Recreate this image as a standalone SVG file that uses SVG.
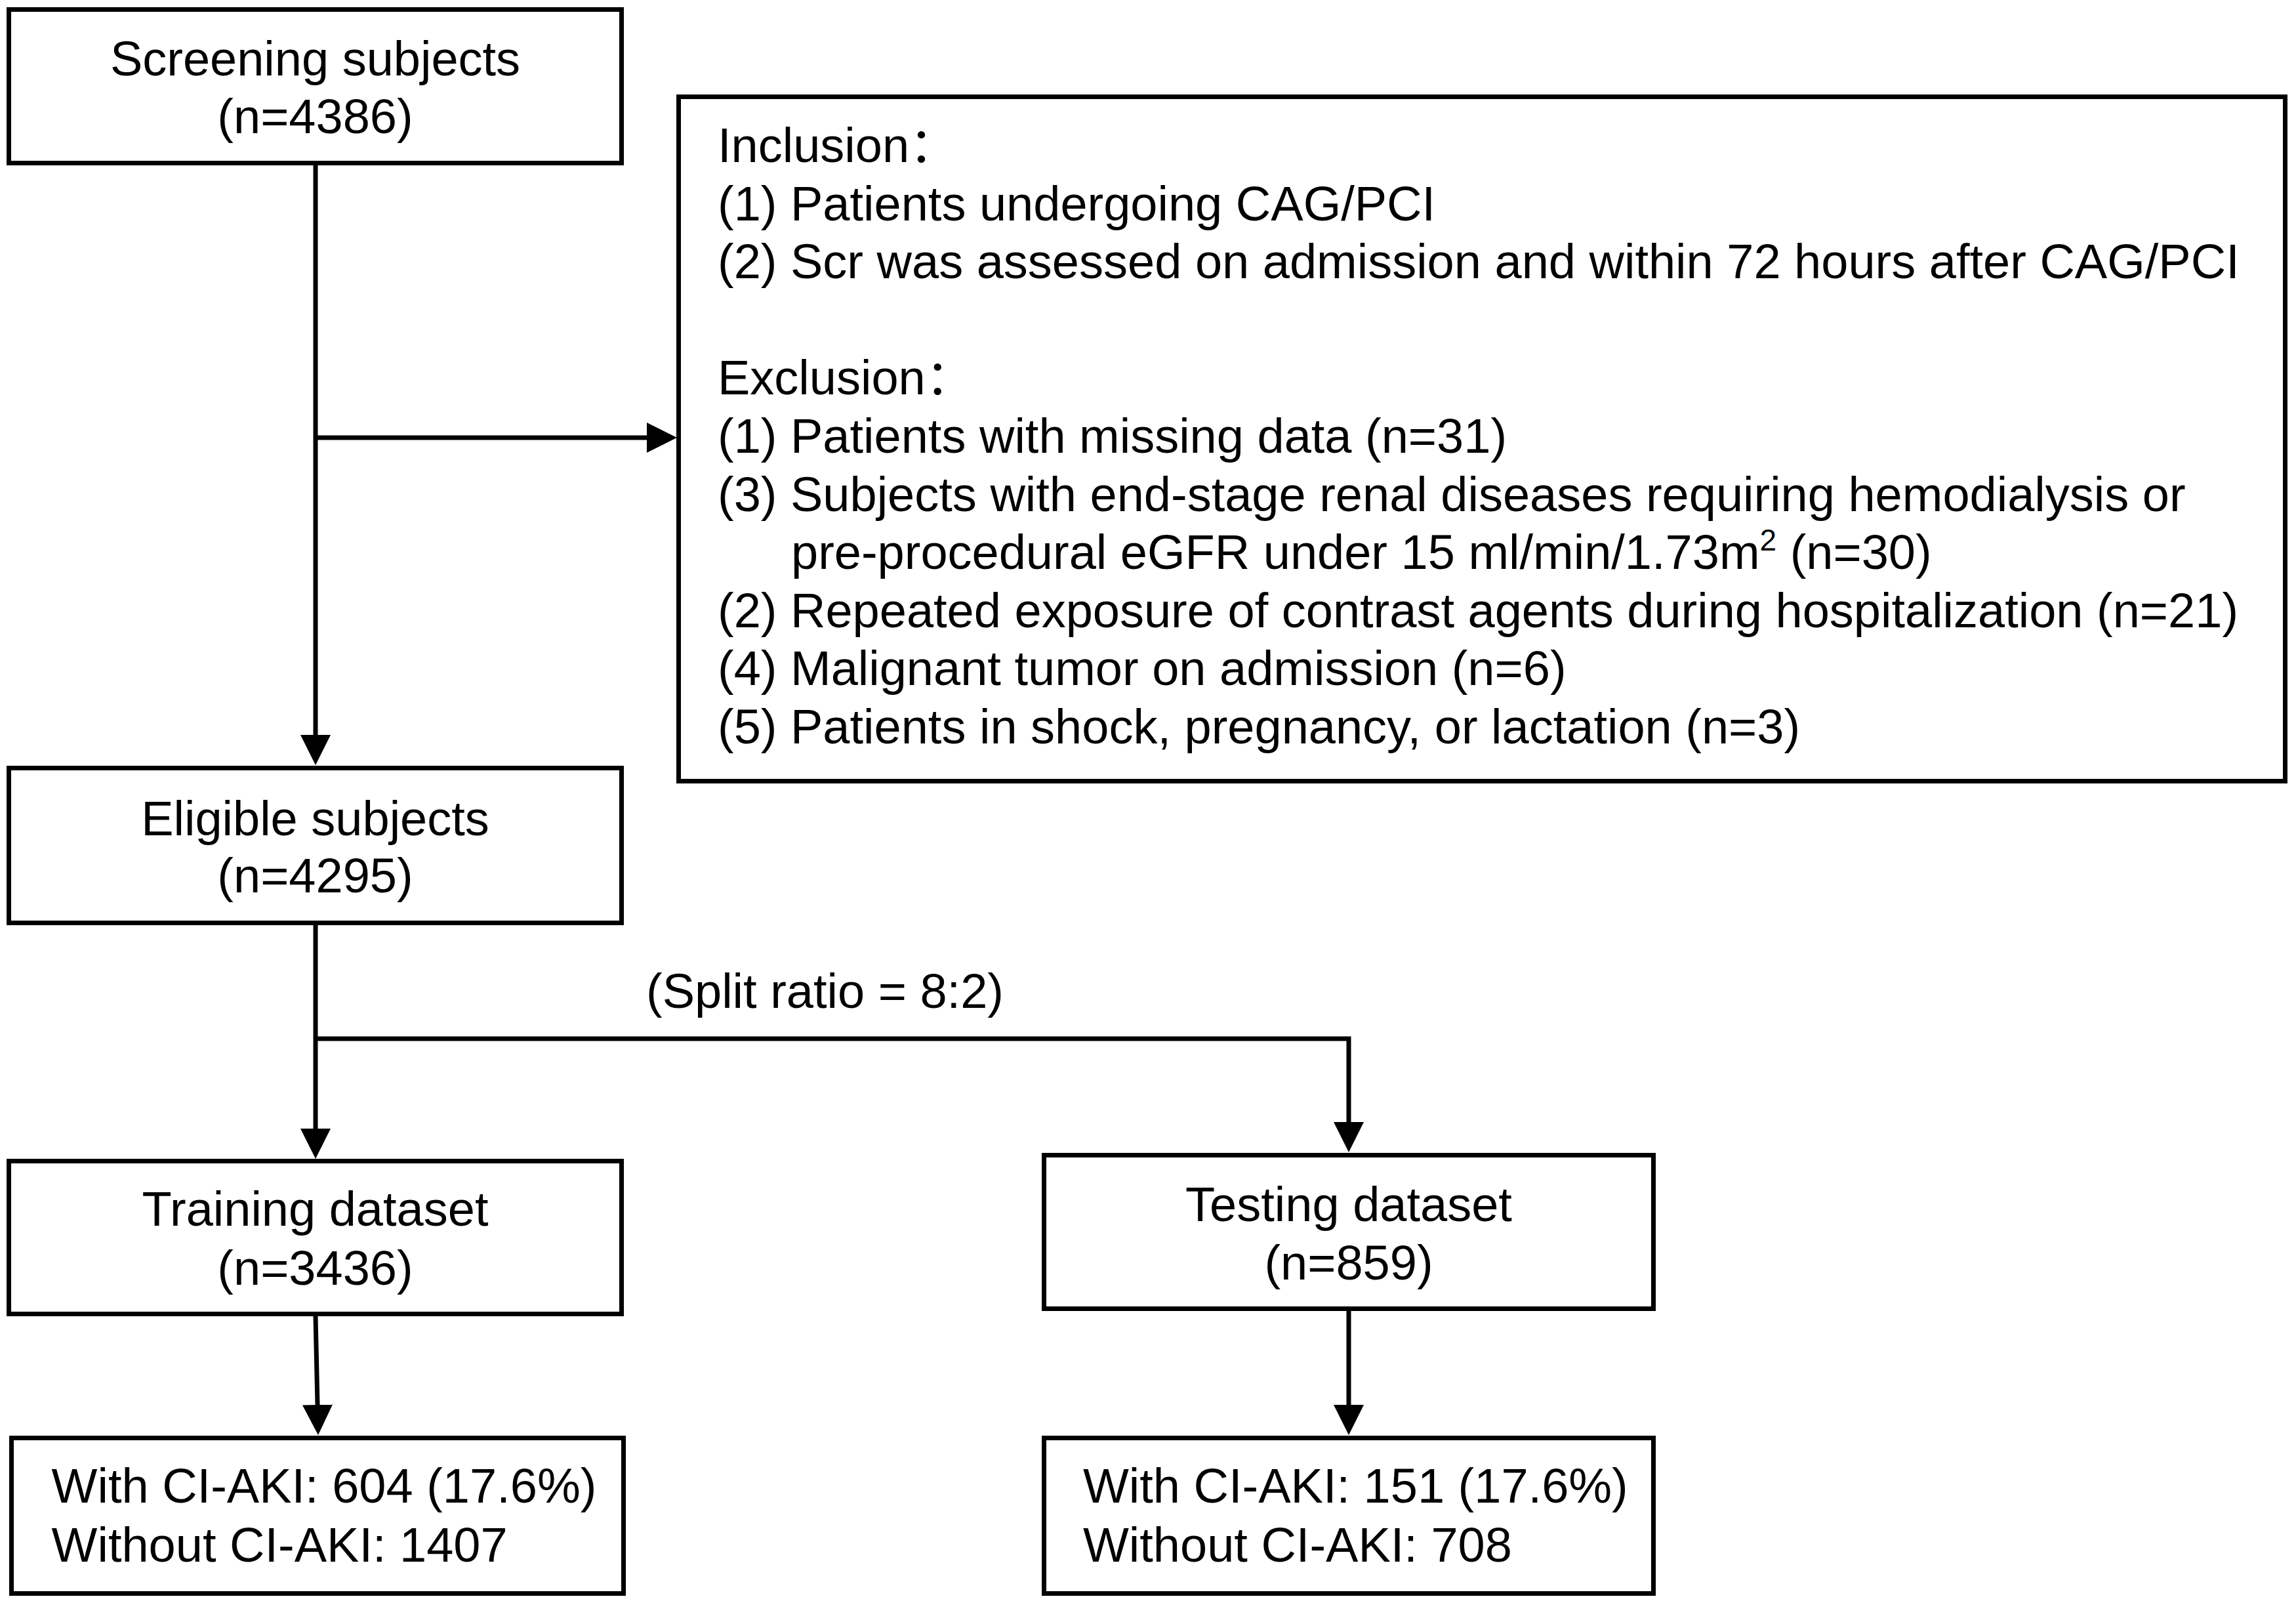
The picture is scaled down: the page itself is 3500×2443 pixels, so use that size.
<svg xmlns="http://www.w3.org/2000/svg" width="3500" height="2443" viewBox="0 0 3500 2443">
<style>
.box{fill:#fff;stroke:#000;stroke-width:7}
.ln{fill:none;stroke:#000;stroke-width:7}
.t{font-family:"Liberation Sans",Arial,"Noto Sans CJK SC",sans-serif;font-size:74px;fill:#000}
.c{text-anchor:middle}
</style>
<defs>
<marker id="ah" markerUnits="userSpaceOnUse" viewBox="0 0 46 46" markerWidth="46" markerHeight="46" refX="0" refY="23" orient="auto">
<path d="M0,0 L46,23 L0,46 Z" fill="#000"/>
</marker>
</defs>
<rect width="3500" height="2443" fill="#fff"/>
<g id="connectors">
<path class="ln" d="M481,252 V1120" marker-end="url(#ah)"/>
<path class="ln" d="M481,667 H986" marker-end="url(#ah)"/>
<path class="ln" d="M481,1410 V1720" marker-end="url(#ah)"/>
<path class="ln" d="M481,1583 H2056 V1710" marker-end="url(#ah)"/>
<path class="ln" d="M481,2006 L484,2141" marker-end="url(#ah)"/>
<path class="ln" d="M2056,1998 V2141" marker-end="url(#ah)"/>
</g>
<g id="screening">
<rect class="box" x="13.5" y="14.5" width="934" height="234"/>
<text class="t c" x="480.5" y="115">Screening subjects</text>
<text class="t c" x="480.5" y="203">(n=4386)</text>
</g>
<g id="criteria">
<rect class="box" x="1034.5" y="147.5" width="2449" height="1043"/>
<text class="t" x="1094" y="247">Inclusion：</text>
<text class="t" x="1094" y="335.6">(1) Patients undergoing CAG/PCI</text>
<text class="t" x="1094" y="424.2">(2) Scr was assessed on admission and within 72 hours after CAG/PCI</text>
<text class="t" x="1094" y="601.4">Exclusion：</text>
<text class="t" x="1094" y="690">(1) Patients with missing data (n=31)</text>
<text class="t" x="1094" y="778.6">(3) Subjects with end-stage renal diseases requiring hemodialysis or</text>
<text class="t" x="1206" y="867.2">pre-procedural eGFR under 15 ml/min/1.73m<tspan font-size="46" dy="-28">2</tspan><tspan dy="28"> (n=30)</tspan></text>
<text class="t" x="1094" y="955.8">(2) Repeated exposure of contrast agents during hospitalization (n=21)</text>
<text class="t" x="1094" y="1044.4">(4) Malignant tumor on admission (n=6)</text>
<text class="t" x="1094" y="1133">(5) Patients in shock, pregnancy, or lactation (n=3)</text>
</g>
<g id="eligible">
<rect class="box" x="13.5" y="1170.5" width="934" height="236"/>
<text class="t c" x="480.5" y="1273">Eligible subjects</text>
<text class="t c" x="480.5" y="1360">(n=4295)</text>
</g>
<g id="split-label">
<text class="t" x="985" y="1536">(Split ratio = 8:2)</text>
</g>
<g id="training">
<rect class="box" x="13.5" y="1769.5" width="934" height="233"/>
<text class="t c" x="480.5" y="1868">Training dataset</text>
<text class="t c" x="480.5" y="1958">(n=3436)</text>
</g>
<g id="testing">
<rect class="box" x="1591.5" y="1760.5" width="929" height="234"/>
<text class="t c" x="2056" y="1861">Testing dataset</text>
<text class="t c" x="2056" y="1950">(n=859)</text>
</g>
<g id="training-outcome">
<rect class="box" x="17.5" y="2191.5" width="933" height="237"/>
<text class="t" x="78.6" y="2290">With CI-AKI: 604 (17.6%)</text>
<text class="t" x="78.6" y="2380">Without CI-AKI: 1407</text>
</g>
<g id="testing-outcome">
<rect class="box" x="1591.5" y="2191.5" width="929" height="237"/>
<text class="t" x="1651" y="2290">With CI-AKI: 151 (17.6%)</text>
<text class="t" x="1651" y="2380">Without CI-AKI: 708</text>
</g>
</svg>
